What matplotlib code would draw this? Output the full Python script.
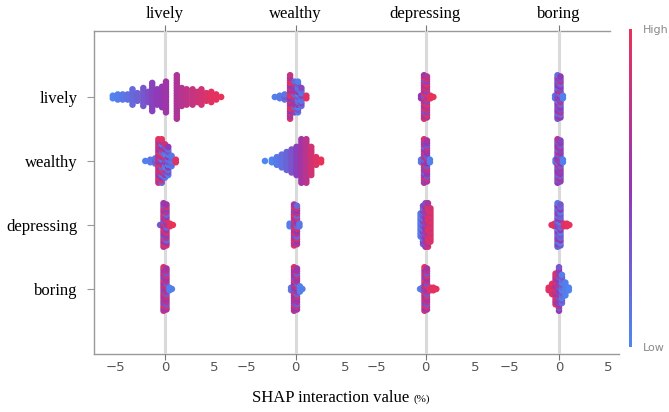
import numpy as np
import matplotlib
matplotlib.use("Agg")
import matplotlib.pyplot as plt
from matplotlib.colors import LinearSegmentedColormap
from matplotlib.cm import ScalarMappable

# feature order (top to bottom / left to right)
features = ["lively", "wealthy", "depressing", "boring"]
tick_vals = [-5, 0, 5]
tick_text = ["\u22125", "0", "5"]

# each cell: (shap value, number of points stacked there, feature-value colour pattern 0..1)
# naming: <column panel>_<row>
lively_lively = [(-5.3, 2, [0.02]), (-4.8, 3, [0.05]), (-4.3, 3, [0.1]), (-3.8, 3, [0.14]),
                 (-3.3, 7, [0.19]), (-2.8, 4, [0.24]), (-2.2, 8, [0.3]), (-1.7, 5, [0.36]),
                 (-1.3, 12, [0.43]), (-0.8, 7, [0.48]), (-0.3, 9, [0.52]), (0.1, 13, [0.57]),
                 (1.2, 18, [0.66]), (1.7, 8, [0.7]), (2.2, 7, [0.75]), (2.8, 7, [0.79]),
                 (3.3, 5, [0.83]), (3.7, 7, [0.87]), (4.2, 4, [0.91]), (4.7, 5, [0.95]),
                 (5.2, 3, [0.98]), (5.7, 1, [1.0])]
lively_wealthy = [(-2.0, 1, [0.05]), (-1.5, 2, [0.08]), (-1.0, 3, [0.15, 0.3]),
                  (-0.67, 18, [0.85, 0.65, 0.95, 0.55, 0.75]),
                  (-0.33, 18, [0.2, 0.9, 0.5, 0.1, 0.7, 0.95]),
                  (0.0, 14, [0.1, 0.6, 0.3, 0.8, 0.05]), (0.33, 12, [0.05, 0.35, 0.15, 0.5]),
                  (0.67, 5, [0.1, 0.2]), (1.1, 2, [0.95])]
lively_depressing = [(-0.5, 1, [0.3]), (-0.15, 18, [0.7, 0.95, 0.5, 0.85, 0.3, 0.6]),
                     (0.15, 17, [0.9, 0.55, 0.2, 0.75, 0.45]), (0.5, 2, [0.95]), (0.8, 1, [1.0])]
lively_boring = [(-0.15, 18, [0.75, 0.55, 0.9, 0.4, 0.65]), (0.15, 17, [0.6, 0.85, 0.3, 0.7]),
                 (0.45, 2, [0.05]), (0.7, 1, [0.05])]

wealthy_lively = [(-2.1, 1, [0.05]), (-1.6, 2, [0.08]), (-1.1, 3, [0.12, 0.3]),
                  (-0.55, 18, [0.9, 0.6, 0.8, 0.5, 0.95]), (-0.1, 13, [0.4, 0.85, 0.2, 0.7, 0.6]),
                  (0.25, 13, [0.1, 0.3, 0.05, 0.55, 0.2]), (0.6, 8, [0.15, 0.4, 0.1]),
                  (1.1, 2, [0.95])]
wealthy_wealthy = [(-3.1, 1, [0.0]), (-2.4, 2, [0.02]), (-1.9, 4, [0.08]), (-1.4, 6, [0.15]),
                   (-0.9, 8, [0.22]), (-0.4, 10, [0.32]), (0.1, 12, [0.45]), (0.6, 18, [0.6]),
                   (1.1, 18, [0.72]), (1.6, 12, [0.85]), (2.1, 4, [0.93]), (2.6, 2, [1.0])]
wealthy_depressing = [(-0.6, 2, [0.05]), (-0.15, 17, [0.9, 0.6, 0.95, 0.7, 0.4]),
                      (0.15, 16, [0.75, 0.5, 0.85, 0.2]), (0.4, 2, [0.1])]
wealthy_boring = [(-0.45, 2, [0.1]), (-0.15, 18, [0.7, 0.5, 0.9, 0.35, 0.6]),
                  (0.15, 17, [0.55, 0.8, 0.25, 0.65]), (0.45, 3, [0.05]), (0.7, 1, [0.05])]

depressing_lively = [(-0.45, 2, [0.5]), (-0.15, 18, [0.9, 0.6, 0.8, 0.3, 0.95, 0.55]),
                     (0.15, 17, [0.7, 0.95, 0.4, 0.85]), (0.5, 2, [0.95]), (0.8, 1, [1.0])]
depressing_wealthy = [(-0.45, 2, [0.1]), (-0.15, 18, [0.7, 0.4, 0.9, 0.55, 0.2]),
                      (0.15, 17, [0.6, 0.8, 0.3, 0.5]), (0.45, 2, [0.05])]
depressing_depressing = [(-0.5, 10, [0.05, 0.12]), (-0.25, 16, [0.2, 0.45, 0.1, 0.35]),
                         (0.0, 18, [0.55, 0.35, 0.7, 0.45]), (0.25, 18, [0.9, 0.65, 0.8, 0.95]),
                         (0.5, 14, [0.95, 0.85])]
depressing_boring = [(-0.55, 1, [0.05]), (-0.3, 2, [0.1]), (-0.1, 18, [0.8, 0.55, 0.95, 0.4, 0.7]),
                     (0.15, 17, [0.6, 0.9, 0.3, 0.75]), (0.5, 2, [0.95]), (0.8, 2, [0.95]),
                     (1.1, 1, [1.0])]

boring_lively = [(-0.4, 2, [0.1]), (-0.15, 18, [0.3, 0.6, 0.15, 0.5, 0.4]),
                 (0.15, 17, [0.5, 0.2, 0.7, 0.35]), (0.4, 2, [0.05])]
boring_wealthy = [(-0.35, 2, [0.1]), (-0.15, 18, [0.5, 0.3, 0.7, 0.2, 0.6]),
                  (0.15, 17, [0.4, 0.65, 0.25, 0.55]), (0.4, 2, [0.05])]
boring_depressing = [(-0.75, 1, [0.95]), (-0.45, 2, [0.95]), (-0.15, 18, [0.2, 0.5, 0.1, 0.6, 0.35]),
                     (0.15, 17, [0.3, 0.05, 0.55, 0.2]), (0.5, 2, [0.9]), (0.8, 2, [0.95]),
                     (1.05, 1, [1.0])]
boring_boring = [(-1.05, 2, [0.95]), (-0.7, 5, [0.95, 0.85]), (-0.35, 13, [0.9, 0.6, 0.8]),
                 (0.0, 18, [0.55, 0.3, 0.7, 0.4]), (0.3, 12, [0.15, 0.3, 0.05]),
                 (0.65, 6, [0.05]), (1.0, 2, [0.02])]

cells = {
    "lively": [lively_lively, lively_wealthy, lively_depressing, lively_boring],
    "wealthy": [wealthy_lively, wealthy_wealthy, wealthy_depressing, wealthy_boring],
    "depressing": [depressing_lively, depressing_wealthy, depressing_depressing, depressing_boring],
    "boring": [boring_lively, boring_wealthy, boring_depressing, boring_boring],
}

cmap = LinearSegmentedColormap.from_list("red_blue", ["#4d87f2", "#9237b5", "#e9325a"])

W, H = 669, 412
fig = plt.figure(figsize=(W / 100, H / 100), dpi=100)


def box(x0, y0, x1, y1):
    # pixel box measured from the top-left corner -> figure fraction
    return [x0 / W, 1 - y1 / H, (x1 - x0) / W, (y1 - y0) / H]


row_pos = [3, 2, 1, 0]
ylim = (-1.016, 4.031)
step = 0.04  # vertical spacing of stacked points (row units)
serif = "Liberation Serif"

# outer frame with the row labels
frame = fig.add_axes(box(94, 31, 619, 354))
frame.set_xlim(0, 1)
frame.set_ylim(ylim)
frame.set_xticks([])
frame.set_yticks(row_pos, features, fontfamily=serif, fontsize=12)
frame.tick_params(axis="y", length=5, width=0.8, color="#999999", pad=7)
frame.spines["right"].set_visible(False)
for s in ["top", "left", "bottom"]:
    frame.spines[s].set_color("#999999")
    frame.spines[s].set_linewidth(1)
frame.spines["top"].set_bounds(0, 0.983)


def layout(bins, y0):
    xs, ys, cs = [], [], []
    for x, n, pat in bins:
        offs = (np.arange(n) - (n - 1) / 2) * step
        for k, o in enumerate(offs):
            xs.append(x)
            ys.append(y0 + o)
            cs.append(pat[k % len(pat)])
    return xs, ys, cs


centers = [165, 295.5, 425.5, 559]
for col, cx in zip(features, centers):
    ax = fig.add_axes(box(cx - 65, 31, cx + 65, 354))
    ax.patch.set_alpha(0)
    for s in ax.spines.values():
        s.set_visible(False)
    ax.set_xlim(-6.6, 6.6)
    ax.set_ylim(ylim)
    ax.axvline(0, color="#dadada", lw=2.2, zorder=0)
    for bins, y in zip(cells[col], row_pos):
        xs, ys, cs = layout(bins, y)
        ax.scatter(xs, ys, c=cs, cmap=cmap, vmin=0, vmax=1, s=22, linewidths=0, zorder=2)
    ax.set_xticks(tick_vals, tick_text)
    ax.xaxis.remove_overlapping_locs = False
    ax.set_xticks([0], minor=True)
    ax.tick_params(which="major", length=0, pad=5, labelsize=9.5, labelcolor="#555555")
    ax.tick_params(which="minor", length=4, width=0.8, color="#777777", top=True, bottom=True)
    ax.set_yticks([])
    ax.set_title(col, fontfamily=serif, fontsize=12, pad=9)

# colour bar
cax = fig.add_axes(box(629, 29, 632, 347))
cb = fig.colorbar(ScalarMappable(cmap=cmap), cax=cax)
cb.outline.set_visible(False)
cb.set_ticks([0, 1], labels=["Low", "High"])
cax.tick_params(length=0, pad=8, labelsize=8, labelcolor="#8a8a8a")

fig.text(409 / W, 1 - 398 / H, "SHAP interaction value", ha="right", va="center",
         fontfamily=serif, fontsize=12)
fig.text(413 / W, 1 - 399 / H, "(%)", ha="left", va="center", fontfamily=serif, fontsize=8)

fig.savefig("out.png", dpi=100)
